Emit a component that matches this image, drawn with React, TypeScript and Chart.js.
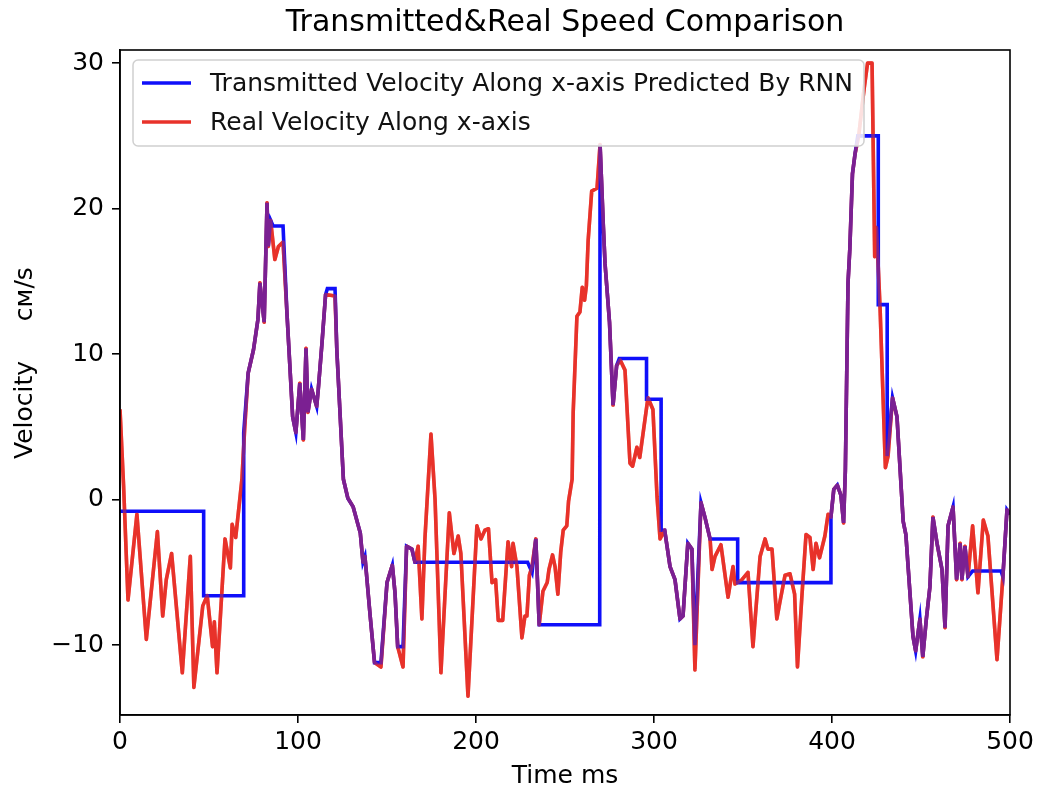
import React, { useEffect, useRef } from "react";
import { Chart, registerables } from "chart.js";

Chart.register(...registerables);

// ---------- data ----------
const realT = [
  0, 2, 4.5, 9.5, 14.8, 21, 24, 26, 29, 35, 39.5, 41.5, 46.5, 49, 52, 53, 54.5, 59, 62, 63, 65, 68.5,
  70, 72, 75, 77.5, 78.6, 81, 82.6, 83.3, 84.6, 87, 89, 91.6, 93.8, 97, 98.8, 101, 103, 104.5, 105.6,
  107.6, 110.5, 111.4, 113.5, 115.5, 120.8, 121.8, 125.5, 128, 131, 135, 136.5, 137.6, 140.4, 143,
  146.6, 150, 153, 154.5, 156, 159, 161, 164, 165.7, 167.5, 169.6, 171.3, 174.7, 177, 180.3, 185,
  187.6, 190, 191.5, 195.5, 200.5, 202.8, 205, 207, 209, 211, 212.5, 215, 218, 220, 220.8, 223,
  225.8, 227.5, 228.6, 230, 231.5, 233.6, 235.5, 237.6, 240, 241, 243, 244.4, 246, 247.6, 249, 251,
  252, 254, 254.6, 256.7, 258.4, 259.7, 261, 262, 263, 265, 268, 269.7, 271.5, 272.5, 275, 277, 279,
  281, 283.7, 286.5, 288, 290.4, 292, 296.6, 299.4, 301.7, 303.4, 306, 309, 311.8, 314.6, 316.3, 319,
  321.3, 323, 326.4, 328.6, 331.5, 332.6, 334.3, 337.6, 341.6, 344.4, 345.5, 349.4, 352.8, 355.6,
  359.6, 362.4, 364, 366.3, 369, 370.8, 373.6, 376.4, 379, 380.6, 383, 385.4, 387.6, 389.4, 391, 393,
  396, 397.8, 399.4, 401, 403, 405, 406.5, 407.5, 409, 410, 411.5, 413, 415, 418, 420, 422.5, 424,
  425, 427, 430, 431.5, 434, 436.5, 440, 441.5, 445.5, 447, 449.4, 451, 453, 455, 456.7, 459, 461.8,
  463.5, 465.2, 468, 470, 472, 473, 474.7, 476.4, 479, 482, 485, 487.6, 492.7, 496, 498.3, 500,
];
const realV = [
  6.2, 1.0, -6.9, -1.0, -9.6, -2.2, -8.0, -5.5, -3.7, -11.9, -3.9, -12.9, -7.3, -6.6, -10.1, -8.4,
  -11.9, -2.7, -4.7, -1.7, -2.6, 1.4,
  4.8, 8.7, 10.3, 12.4, 14.9, 12.2, 20.4, 17.4, 19.2, 16.5, 17.4, 17.7, 12.8, 5.7, 4.6, 8.0, 4.1, 10.4,
  6.0, 7.6, 6.4, 7.6, 10.8, 14.1, 14.0, 10.3, 1.4, 0.1, -0.5, -2.3, -4.3, -3.9, -7.8, -11.2,
  -11.5, -5.7, -4.5, -6.4, -10.1, -11.5, -3.2, -3.4, -4.3, -3.2, -8.2, -2.7, 4.5, 0.0, -11.9, -0.9,
  -3.7, -2.5, -3.7, -13.5, -1.8, -2.7, -2.1, -2.0, -5.7, -5.5, -8.3, -8.3, -2.9, -4.6, -3.0, -4.6,
  -9.5, -8.0, -8.0, -5.2, -4.6, -2.7, -8.6, -6.3, -5.7, -4.8, -3.8, -4.6, -6.5, -3.6, -2.1, -1.8,
  -0.1, 1.4, 6.0, 12.6, 12.9, 14.6, 13.7, 14.7, 17.8, 21.2, 21.4, 24.4, 18.9, 16.2, 12.2, 6.5, 9.2,
  9.6, 8.9, 2.5, 2.3, 3.6, 2.9, 7.0, 6.2, 0.2, -2.7, -2.1, -4.6, -5.5, -8.2, -8.0, -3.0,
  -3.4, -11.7, -0.2, -1.2, -2.7, -4.8, -3.9, -3.1, -6.7, -4.6, -5.8, -5.5, -5.0, -10.1,
  -3.9, -2.7, -3.4, -3.4, -8.2, -7.0, -5.2, -5.1, -6.5, -11.5, -6.8, -2.4, -2.6, -4.8, -3.0, -4.0,
  -2.5, -1.0, -1.2, 0.7, 1.0, 0.3, -1.6, 2.0, 14.9, 17.2, 22.4, 23.8, 25.0, 28.2, 30.0, 30.0, 16.7,
  18.7, 13.2, 2.2, 3.0, 7.0, 5.7, -1.5, -2.4, -9.4, -10.4, -8.2, -10.8, -8.2, -6.0, -1.2, -3.0, -4.8,
  -8.8, -1.8, -0.5, -5.5, -3.0, -5.5, -3.2, -5.3, -1.8, -6.4, -1.4, -2.5, -11.0, -5.3, -0.7, -1.0,
];

const predT = [
  0, 47, 47, 69.5, 69.5, 72, 75, 77.5, 78.6, 81, 82.6, 83.3, 84.6, 86, 91.6, 93.8, 97, 98.8, 101, 103,
  104.5, 105.6, 107.6, 110.5, 111.4, 113.5, 115.5, 116.5, 120.8, 121.8, 125.5, 128, 131, 135, 136.5,
  137.6, 140.4, 143, 146.6, 150, 153, 154.5, 156, 159, 161, 164, 165.7, 229, 231.5, 233.6, 235.5,
  269.5, 269.7, 271.5, 272.5, 275, 277, 279, 280.5, 295.8, 295.8, 304, 304, 306, 309, 311.8, 314.6,
  316.3, 319, 321.3, 323, 326.4, 328.6, 331.5, 347, 347, 399.4, 399.4, 401, 403, 405, 406.5, 407.5,
  409, 410, 411.5, 413, 414.5, 426, 426, 431, 431, 434, 436.5, 440, 441.5, 445.5, 447, 449.4, 451,
  453, 455, 456.7, 459, 461.8, 463.5, 465.2, 468, 470, 472, 473, 474.7, 476.4, 479, 495, 496, 498.3,
  500,
];
const predV = [
  -0.8, -0.8, -6.6, -6.6, 4.6, 8.7, 10.3, 12.4, 14.9, 12.2, 20.4, 17.4, 19.2, 18.8, 18.8, 12.8, 5.7,
  4.6, 8.0, 4.1, 10.4, 6.0, 7.6, 6.4, 7.6, 10.8, 14.1, 14.5, 14.5, 10.3, 1.4, 0.1, -0.5, -2.3, -4.3,
  -3.9, -7.8, -11.2, -11.2, -5.7, -4.5, -6.4, -10.1, -10.1, -3.2, -3.4, -4.3, -4.3, -5.0, -2.7, -8.6,
  -8.6, 24.4, 18.9, 16.2, 12.2, 6.5, 9.2, 9.7, 9.7, 6.9, 6.9, -2.1, -2.1, -4.6, -5.5, -8.2,
  -8.0, -3.0, -3.4, -10.0, -0.2, -1.2, -2.7, -2.7, -5.7, -5.7, -1.2, 0.7, 1.0, 0.3, -1.6, 2.0,
  14.9, 17.2, 22.4, 23.8, 25.0, 25.0, 13.4, 13.4, 3.0, 7.0, 5.7, -1.5, -2.4, -9.4, -10.4, -8.2, -10.8,
  -8.2, -6.0, -1.2, -3.0, -4.8, -8.8, -1.8, -0.5, -5.5, -3.0, -5.5, -3.2, -5.3, -4.9, -4.9, -5.3, -0.7,
  -1.0,
];

const xTicks = [0, 100, 200, 300, 400, 500];
const xTickLabels = ["0", "100", "200", "300", "400", "500"];
const yTicks = [-10, 0, 10, 20, 30];
const yTickLabels = ["\u221210", "0", "10", "20", "30"];

const TITLE = "Transmitted&Real Speed Comparison";
const X_TITLE = "Time ms";
const Y_TITLE = "Velocity     \u0441\u043c/s";
const SERIES_LABELS = [
  "Transmitted Velocity Along x-axis Predicted By RNN",
  "Real Velocity Along x-axis",
];

// ---------- styles ----------
const FONT = "'DejaVu Sans', 'Liberation Sans', sans-serif";
const FS = 25;
const BLUE = "#0f0ffa";
const RED = "#e8322a";
const RED_OVER = "rgba(232,50,42,0.5)";
const LW = 3.6;

const decorPlugin = {
  id: "decor",
  afterDraw(chart: any) {
    const { ctx, chartArea: ca } = chart;
    ctx.save();
    // frame (spines)
    ctx.strokeStyle = "#000";
    ctx.lineWidth = 1.6;
    ctx.strokeRect(ca.left, ca.top, ca.right - ca.left, ca.bottom - ca.top);

    // title
    ctx.fillStyle = "#000";
    ctx.textBaseline = "middle";
    ctx.textAlign = "center";
    ctx.font = `30px ${FONT}`;
    ctx.fillText(TITLE, (ca.left + ca.right) / 2, 23);

    // x title
    ctx.font = `${FS}px ${FONT}`;
    ctx.fillText(X_TITLE, (ca.left + ca.right) / 2, 776);

    // y title
    ctx.save();
    ctx.translate(25, 459);
    ctx.rotate(-Math.PI / 2);
    ctx.textAlign = "left";
    ctx.fillText(Y_TITLE, 0, 0);
    ctx.restore();

    // legend
    const bx = 133, by = 60, bw = 731, bh = 86;
    ctx.beginPath();
    if (ctx.roundRect) ctx.roundRect(bx, by, bw, bh, 5);
    else ctx.rect(bx, by, bw, bh);
    ctx.fillStyle = "rgba(255,255,255,0.85)";
    ctx.fill();
    ctx.strokeStyle = "#d0d0d0";
    ctx.lineWidth = 1.5;
    ctx.stroke();

    const rows = [
      { label: SERIES_LABELS[0], color: BLUE, y: 83 },
      { label: SERIES_LABELS[1], color: RED, y: 122 },
    ];
    ctx.textAlign = "left";
    ctx.textBaseline = "middle";
    ctx.font = `${FS}px ${FONT}`;
    for (const r of rows) {
      ctx.beginPath();
      ctx.strokeStyle = r.color;
      ctx.lineWidth = LW;
      ctx.moveTo(142, r.y);
      ctx.lineTo(191, r.y);
      ctx.stroke();
      ctx.fillStyle = "#111";
      ctx.fillText(r.label, 210, r.y + 1);
    }
    ctx.restore();
  },
};

export default function App() {
  const ref = useRef<HTMLCanvasElement | null>(null);

  useEffect(() => {
    if (!ref.current) return;
    Chart.defaults.font.family = FONT;
    const realPts = realT.map((t, i) => ({ x: t, y: realV[i] }));
    const predPts = predT.map((t, i) => ({ x: t, y: predV[i] }));

    const tickFont = { family: FONT, size: FS };
    const gridCommon = {
      display: true,
      drawOnChartArea: false,
      drawTicks: true,
      tickLength: 8,
      color: "#000",
      lineWidth: 1.6,
    };

    const chart = new Chart(ref.current, {
      type: "line",
      data: {
        datasets: [
          {
            label: "_overlap",
            data: realPts,
            borderColor: RED_OVER,
            borderWidth: LW,
            pointRadius: 0,
            borderJoinStyle: "round",
            tension: 0,
          },
          {
            label: SERIES_LABELS[0],
            data: predPts,
            borderColor: BLUE,
            borderWidth: LW,
            pointRadius: 0,
            borderJoinStyle: "miter",
            tension: 0,
          },
          {
            label: SERIES_LABELS[1],
            data: realPts,
            borderColor: RED,
            borderWidth: LW,
            pointRadius: 0,
            borderJoinStyle: "round",
            tension: 0,
          },
        ],
      },
      options: {
        animation: false,
        responsive: false,
        maintainAspectRatio: false,
        layout: { padding: { left: 0, right: 30, top: 50, bottom: 0 } },
        plugins: {
          legend: { display: false },
          title: { display: false },
          tooltip: { enabled: false },
        },
        scales: {
          x: {
            type: "linear",
            min: 0,
            max: 500,
            afterBuildTicks: (s: any) => {
              s.ticks = xTicks.map((v) => ({ value: v }));
            },
            afterFit: (s: any) => {
              s.height = 79;
            },
            ticks: {
              callback: (_v: any, i: number) => xTickLabels[i],
              font: tickFont,
              color: "#000",
              padding: 4,
              maxRotation: 0,
              autoSkip: false,
            },
            grid: gridCommon,
            border: { display: true, color: "#000", width: 1.6 },
          },
          y: {
            type: "linear",
            min: -14.8,
            max: 30.9,
            afterBuildTicks: (s: any) => {
              s.ticks = yTicks.map((v) => ({ value: v }));
            },
            afterFit: (s: any) => {
              s.width = 120;
            },
            ticks: {
              callback: (_v: any, i: number) => yTickLabels[i],
              font: tickFont,
              color: "#000",
              padding: 8,
              autoSkip: false,
            },
            grid: gridCommon,
            border: { display: true, color: "#000", width: 1.6 },
          },
        },
      },
      plugins: [decorPlugin],
    } as any);

    return () => chart.destroy();
  }, []);

  return (
    <div
      style={{
        position: "absolute",
        left: 0,
        top: 0,
        width: 1040,
        height: 794,
        background: "#fff",
      }}
    >
      <canvas ref={ref} width={1040} height={794} style={{ display: "block" }} />
    </div>
  );
}
